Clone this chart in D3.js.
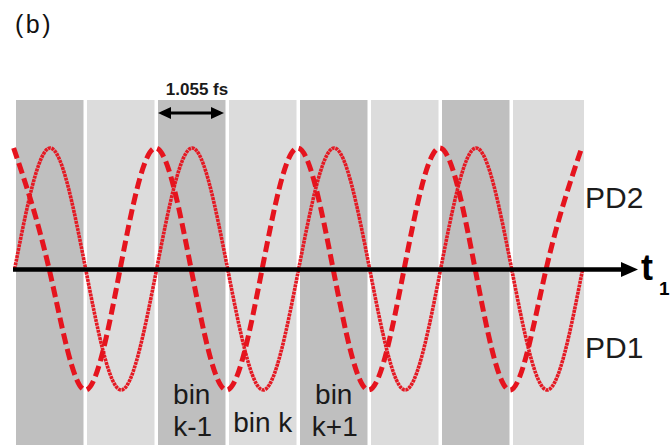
<!DOCTYPE html>
<html>
<head>
<meta charset="utf-8">
<script src="https://cdn.jsdelivr.net/npm/d3@7"></script>
<style>
  html, body { margin: 0; padding: 0; background: #ffffff; }
  svg { display: block; }
  text { font-family: "Liberation Sans", Arial, sans-serif; }
</style>
</head>
<body>
<svg id="chart" width="672" height="445"></svg>
<script>
// Time bins (fs): eight bins of equal width, alternating shade
const binWidthFs = 1.055;
const binCount = 8;
const binShade = ["dark", "light", "dark", "light", "dark", "light", "dark", "light"];
const binLabelIndex = [2, 3, 4];
const binLabelLines = [["bin", "k-1"], ["bin k"], ["bin", "k+1"]];

// Photodiode traces, sampled at their extrema and zero crossings (t in fs, normalised signal)
const pd1Time = [-0.02, 0.5075, 1.035, 1.5625, 2.09, 2.6175, 3.145, 3.6725, 4.2,
                 4.7275, 5.255, 5.7825, 6.31, 6.8375, 7.365, 7.8925, 8.42];
const pd1Signal = [0, 1, 0, -1, 0, 1, 0, -1, 0, 1, 0, -1, 0, 1, 0, -1, 0];
const pd2Time = [-0.035, 0.4925, 1.02, 1.5475, 2.075, 2.6025, 3.13, 3.6575, 4.185,
                 4.7125, 5.24, 5.7675, 6.295, 6.8225, 7.35, 7.8775, 8.405];
const pd2Signal = [1, 0, -1, 0, 1, 0, -1, 0, 1, 0, -1, 0, 1, 0, -1, 0, 1];

const traceNames = ["PD2", "PD1"];
const spanLabel = "1.055 fs";
const axisName = "t";
const axisSub = "1";
const panelLabel = "(b)";

const svg = d3.select("#chart");

const x = d3.scaleLinear().domain([0, binWidthFs * binCount]).range([16, 584]);
const y = d3.scaleLinear().domain([-1, 1]).range([390, 148]);
const bandTop = 100, bandBottom = 445, gap = 3.5;
const shadeColor = { dark: "#bfbfbf", light: "#dcdcdc" };

// background bins
const bins = d3.range(binCount).map(i => ({ i, t0: i * binWidthFs, t1: (i + 1) * binWidthFs, shade: binShade[i] }));
svg.append("g").selectAll("rect").data(bins).join("rect")
  .attr("x", d => x(d.t0))
  .attr("y", bandTop)
  .attr("width", d => x(d.t1) - x(d.t0) - (d.i === binCount - 1 ? 0 : gap))
  .attr("height", bandBottom - bandTop)
  .attr("fill", d => shadeColor[d.shade]);

// bin labels, centred in their bins
const lblG = svg.append("g").attr("fill", "#1a1a1a").attr("font-size", 28).attr("text-anchor", "middle");
binLabelIndex.forEach((bi, k) => {
  const cx = (x(bi * binWidthFs) + x((bi + 1) * binWidthFs) - gap) / 2;
  const lines = binLabelLines[k];
  if (lines.length === 2) {
    lblG.append("text").attr("x", cx).attr("y", 404).text(lines[0]);
    lblG.append("text").attr("x", cx + 1).attr("y", 436).text(lines[1]);
  } else {
    lblG.append("text").attr("x", cx).attr("y", 432).text(lines[0]);
  }
});

// traces
const line = d3.line().x(d => x(d[0])).y(d => y(d[1])).curve(d3.curveNatural);
const pd1 = pd1Time.map((t, i) => [t, pd1Signal[i]]);
const pd2 = pd2Time.map((t, i) => [t, pd2Signal[i]]);

svg.append("path").attr("d", line(pd1))
  .attr("fill", "none").attr("stroke", "#e41a24")
  .attr("stroke-width", 3.6).attr("stroke-dasharray", "3 0.7");

svg.append("path").attr("d", line(pd2))
  .attr("fill", "none").attr("stroke", "#e5141e")
  .attr("stroke-width", 5).attr("stroke-dasharray", "11 5");

// time axis arrow
const axisY = 269.5;
const axisEnd = 638;
svg.append("line").attr("x1", 13).attr("x2", axisEnd - 14).attr("y1", axisY).attr("y2", axisY)
  .attr("stroke", "#000").attr("stroke-width", 4.5);
svg.append("path")
  .attr("d", `M${axisEnd},${axisY} L${axisEnd - 17},${axisY - 7.5} L${axisEnd - 17},${axisY + 7.5} Z`)
  .attr("fill", "#000");
const axText = svg.append("text").attr("x", 641).attr("y", 280)
  .attr("font-size", 36).attr("font-weight", "bold").attr("fill", "#000");
axText.append("tspan").text(axisName);
axText.append("tspan").attr("font-size", 19).attr("dy", 15).attr("dx", 6).text(axisSub);

// trace labels
svg.append("text").attr("x", 585).attr("y", 208).attr("font-size", 30).attr("fill", "#1c1c1c").text(traceNames[0]);
svg.append("text").attr("x", 585).attr("y", 358).attr("font-size", 30).attr("fill", "#1c1c1c").text(traceNames[1]);

// bin width indicator
const a0 = x(2 * binWidthFs), a1 = x(3 * binWidthFs) - gap - 1.5;
const ay = 113, ah = 13, aw = 6;
svg.append("line").attr("x1", a0 + 4).attr("x2", a1 - 4).attr("y1", ay).attr("y2", ay)
  .attr("stroke", "#000").attr("stroke-width", 3);
svg.append("path").attr("d", `M${a0},${ay} L${a0 + ah},${ay - aw} L${a0 + ah},${ay + aw} Z`).attr("fill", "#000");
svg.append("path").attr("d", `M${a1},${ay} L${a1 - ah},${ay - aw} L${a1 - ah},${ay + aw} Z`).attr("fill", "#000");
svg.append("text").attr("x", 197).attr("y", 95).attr("text-anchor", "middle")
  .attr("font-size", 17).attr("font-weight", "bold").attr("fill", "#1a1a1a").text(spanLabel);

// panel label
svg.append("text").attr("x", 15).attr("y", 33).attr("font-size", 25)
  .attr("letter-spacing", 2.5).attr("fill", "#111").text(panelLabel);
</script>
</body>
</html>
